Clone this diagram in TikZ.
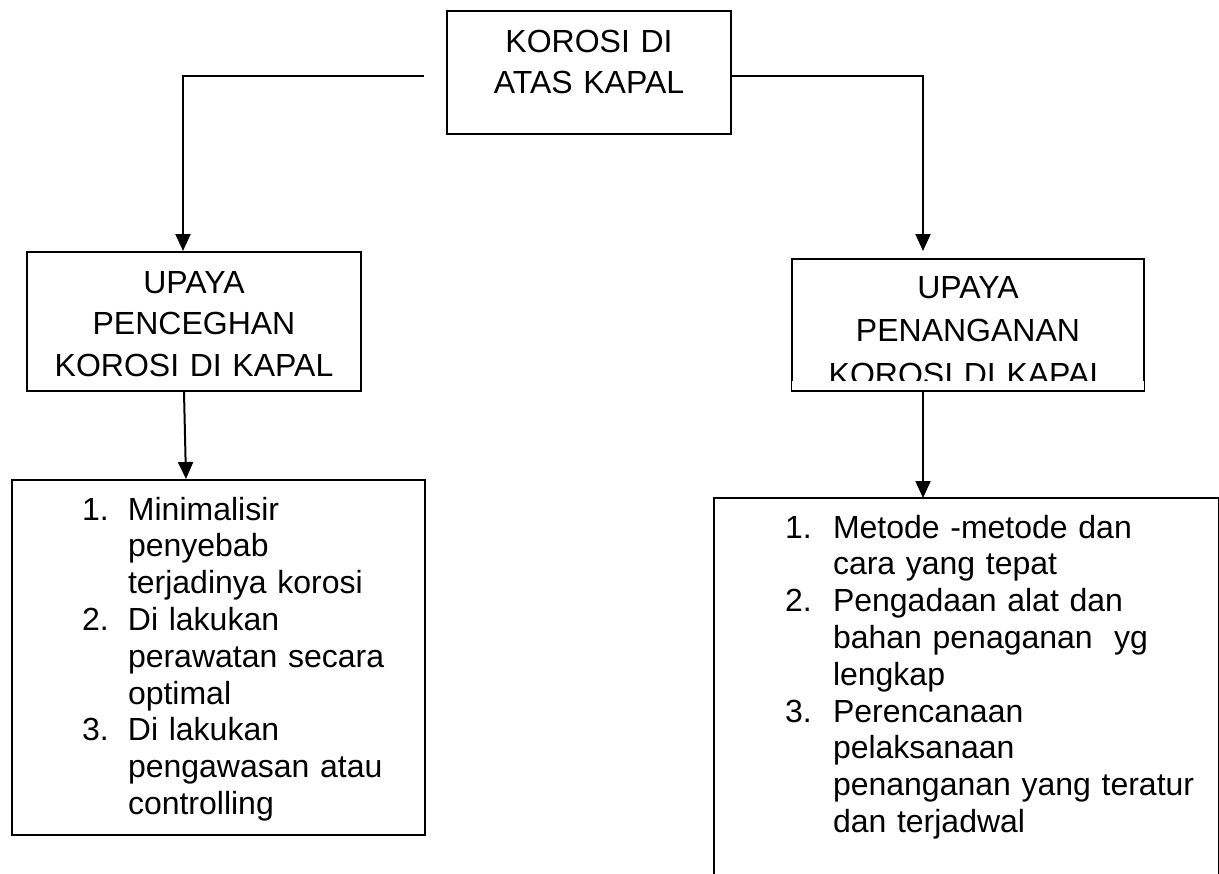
\documentclass[tikz,border=0pt]{standalone}
\usepackage{fontspec}
\setmainfont{Liberation Sans}
\usetikzlibrary{arrows.meta}

\tikzstyle{topic} = [rectangle,
inner sep=0pt,
text width=142pt,
text height=20.5pt,
text depth=41pt,
align=center,
font=\fontsize{16}{20.5}\selectfont,
draw=black]
\tikzstyle{effort} = [rectangle,
inner sep=0pt,
align=center,
draw=black]
\tikzstyle{steps} = [rectangle,
inner sep=0pt,
align=left,
font=\fontsize{16}{18.4}\selectfont]
\tikzstyle{arrow} = [line width=1pt,-{Triangle[width=7.5pt,length=8.5pt]}]

\begin{document}
\begin{tikzpicture}[node distance=124.5pt, line width=1pt]
    \useasboundingbox (0,0) rectangle (609.5pt,-436.5pt);
    \node (top) [topic] at (294.5pt,-36.25pt) {KOROSI DI\\ATAS KAPAL};
    \node (cegah) [effort, below of=top, xshift=-197.5pt,
        text width=167pt, text height=20.5pt, text depth=49pt,
        font=\fontsize{16}{20.75}\selectfont] {UPAYA\\PENCEGHAN\\KOROSI DI KAPAL};
    \node (tangan) [effort, below of=top, xshift=189.5pt, yshift=-1.5pt,
        text width=176pt, text height=19.5pt, text depth=46pt,
        font=\fontsize{16}{21.75}\selectfont] {UPAYA\\PENANGANAN\\KOROSI DI KAPAL};
    % bottom line of the text is cut off by the box
    \fill [white] ([shift={(0.6pt,0.6pt)}]tangan.south west) rectangle ([shift={(-0.6pt,5pt)}]tangan.south east);
    \draw (tangan.south west) -- (tangan.south east);
    \node (cegahlist) [steps, draw=black, below of=cegah, xshift=12.25pt, yshift=-43.5pt,
        text width=206.5pt, text height=20pt, text depth=157.5pt] {\hspace*{35pt}\begin{tabular}[t]{@{}p{23pt}@{}l@{}}
        1. & Minimalisir\\
           & penyebab\\
           & terjadinya korosi\\
        2. & Di lakukan\\
           & perawatan secara\\
           & optimal\\
        3. & Di lakukan\\
           & pengawasan atau\\
           & controlling
        \end{tabular}};
    \node (tanganlist) [steps, below of=tangan, xshift=-0.75pt, yshift=-61.25pt,
        text width=251.5pt, text height=19.5pt, text depth=177.5pt] {\hspace*{35pt}\begin{tabular}[t]{@{}p{24pt}@{}l@{}}
        1. & Metode -metode dan\\
           & cara yang tepat\\
        2. & Pengadaan alat dan\\
           & bahan penaganan\ \ yg\\
           & lengkap\\
        3. & Perencanaan\\
           & pelaksanaan\\
           & penanganan yang teratur\\
           & dan terjadwal
        \end{tabular}};
    % box runs off the bottom of the page
    \draw (tanganlist.south west) |- (tanganlist.north east) -- (tanganlist.south east);

    \draw [arrow] ([shift={(-11pt,-1.75pt)}]top.west) -| ([xshift=-5.5pt]cegah.north);
    \draw [arrow] ([yshift=-1.75pt]top.east) -| ([shift={(-22.5pt,3.5pt)}]tangan.north);
    \draw [arrow] ([xshift=-5pt]cegah.south) -- ([xshift=-16.25pt]cegahlist.north);
    \draw [arrow] ([xshift=-22.5pt]tangan.south) -- ([xshift=-22.5pt]tangan.south |- tanganlist.north);
\end{tikzpicture}
\end{document}
